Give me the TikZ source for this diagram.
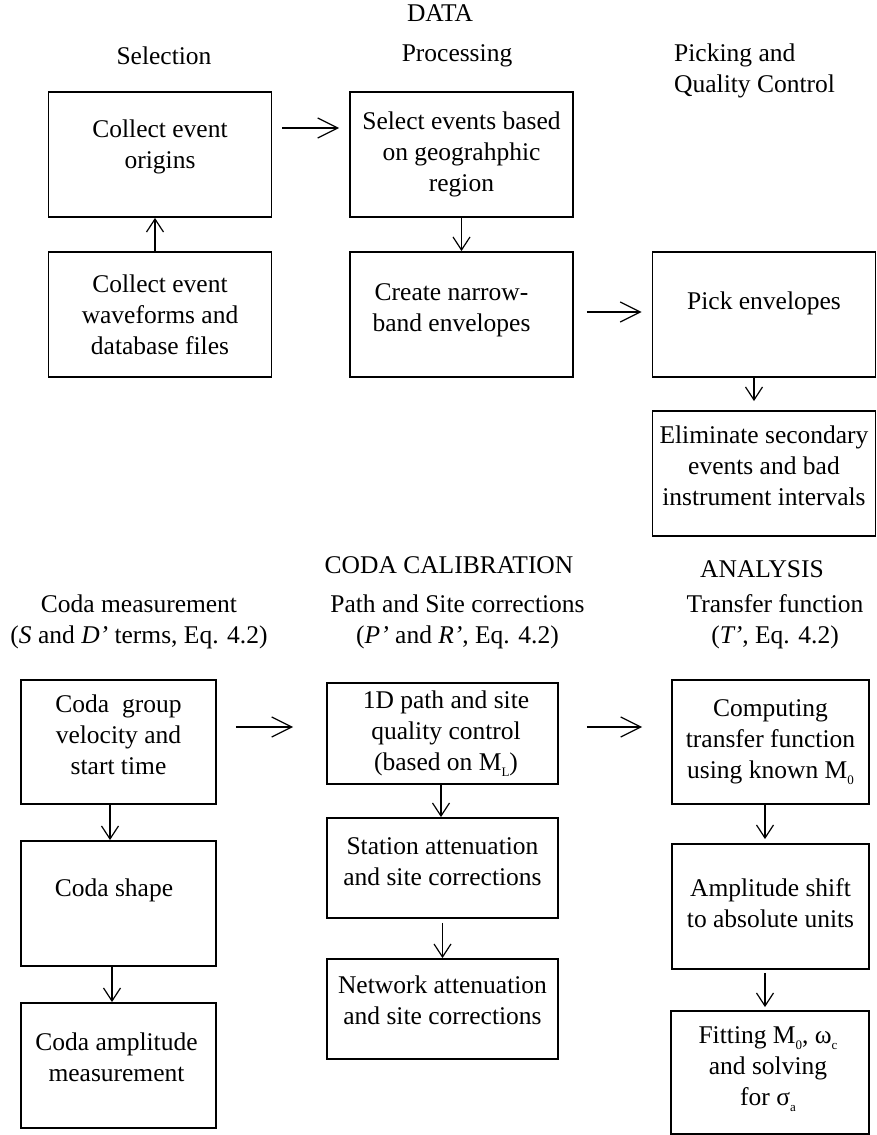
\documentclass[tikz,border=0pt]{standalone}
\usepackage{fontspec}
\setmainfont{Liberation Serif}
\usepackage{tikz}
\usetikzlibrary{arrows.meta}
\usetikzlibrary{calc}
\newcommand{\lowsub}[1]{\raisebox{-0.55ex}{\fontsize{13}{13}\selectfont #1}}

\begin{document}
\begin{tikzpicture}[x=1pt, y=-1pt,
	every node/.style={font=\fontsize{25.5}{31}\selectfont, align=center, inner sep=0pt},
	box/.style={draw, line width=1.9pt},
	topbox/.style={box, minimum width=223pt, minimum height=125pt},
	codabox/.style={box, minimum width=195pt, minimum height=125pt},
	pathbox/.style={box, minimum width=231pt, minimum height=101pt},
	fitbox/.style={box, minimum width=197pt, minimum height=125pt},
	vflow/.style={-{Straight Barb[length=13pt,width=17pt]}, line width=1.2pt},
	hflow/.style={-{Straight Barb[length=20pt,width=20pt]}, line width=1.2pt}]
	\useasboundingbox (0,0) rectangle (877,1135);

	\node (data) at (440,13) {DATA};
	\node (selection) at (164,56) {Selection};
	\node (processing) at (457,56) {Processing};
	\node[align=left, anchor=west] (picking) at (674,71) {Picking and\\Quality Control};

	\node[topbox] (origins) at (160,154.5) {};
	\node[topbox] (select) at (461.5,154.5) {};
	\node[topbox] (waveforms) at (160,314.5) {};
	\node[topbox] (narrow) at (461.5,314.5) {};
	\node[topbox] (pick) at (764,314.5) {};
	\node[topbox] (eliminate) at (764,473.5) {};

	\node (origins-t) at ([yshift=8pt]origins) {Collect event\\origins};
	\node (select-t) at (select) {Select events based\\on geograhphic\\region};
	\node (waveforms-t) at (waveforms) {Collect event\\waveforms and\\database files};
	\node (narrow-t) at ([xshift=-10pt,yshift=4.5pt]narrow) {Create narrow-\\band envelopes};
	\node (pick-t) at ([yshift=11.5pt]pick) {Pick envelopes};
	\node (eliminate-t) at ([yshift=7.5pt]eliminate) {Eliminate secondary\\events and bad\\instrument intervals};

	\draw[hflow, shorten <=10pt, shorten >=10pt] ([yshift=26.5pt]origins.east) -- ([yshift=26.5pt]select.west);
	\draw[vflow] ([xshift=-5pt]waveforms.north) -- ([xshift=-5pt]origins.south);
	\draw[vflow] (select) -- (narrow);
	\draw[hflow, shorten <=13pt, shorten >=10pt] ([yshift=2.5pt]narrow.east) -- ([yshift=2.5pt]pick.west);
	\draw[vflow, shorten >=9pt] ([xshift=-10pt]pick.south) -- ([xshift=-10pt]eliminate.north);

	\node (calibration) at (449,565) {CODA CALIBRATION};
	\node (analysis) at (762,569) {ANALYSIS};
	\node (measurement) at (139,622) {Coda measurement\\(\textit{S} and \textit{D’} terms, Eq. 4.2)};
	\node (corrections) at (457.5,622) {Path and Site corrections\\(\textit{P’} and \textit{R’}, Eq. 4.2)};
	\node (transfer) at (775,622) {Transfer function\\(\textit{T’}, Eq. 4.2)};

	\node[codabox, minimum height=124pt] (group) at (118.5,742) {};
	\node[pathbox] (path1d) at (442.5,733.5) {};
	\node[fitbox, minimum height=124pt] (computing) at (770.5,742) {};
	\node[codabox] (codashape) at (118.5,903.5) {};
	\node[codabox] (amplitude) at (118.5,1065.5) {};
	\node[pathbox, minimum height=100pt] (station) at (442.5,868) {};
	\node[pathbox, minimum height=100pt] (network) at (442.5,1009) {};
	\node[fitbox] (ampshift) at (770.5,906.5) {};
	\node[fitbox, minimum width=198pt, minimum height=123pt] (fitting) at (770,1072.5) {};

	\node (group-t) at ([yshift=7pt]group) {Coda\ \ group\\velocity and\\start time};
	\node (path1d-t) at ([xshift=3.5pt]path1d) {1D path and site\\quality control\\(based on M\lowsub{L})};
	\node (computing-t) at (computing) {Computing\\transfer function\\using known M\lowsub{0}};
	\node (codashape-t) at ([xshift=-4.5pt,yshift=13.5pt]codashape) {Coda shape};
	\node (amplitude-t) at ([xshift=-2pt,yshift=8.5pt]amplitude) {Coda amplitude\\measurement};
	\node (station-t) at ([yshift=6pt]station) {Station attenuation\\and site corrections};
	\node (network-t) at ([yshift=8.5pt]network) {Network attenuation\\and site corrections};
	\node (ampshift-t) at ([yshift=3.5pt]ampshift) {Amplitude shift\\to absolute units};
	\node (fitting-t) at ([xshift=-2pt,yshift=3.5pt]fitting) {Fitting M\lowsub{0}, ω\lowsub{c}\\and solving\\for σ\lowsub{a}};

	\draw[hflow, shorten <=19pt, shorten >=33pt] ([yshift=15pt]group.east) -- ([yshift=15pt]group.east -| path1d.west);
	\draw[hflow, shorten <=28pt, shorten >=29pt] ([yshift=6.5pt]path1d.east) -- ([yshift=6.5pt]path1d.east -| computing.west);
	\draw[vflow] ([xshift=-8.5pt]group.south) -- ([xshift=-8.5pt]codashape.north);
	\draw[vflow] ([xshift=-6.5pt]codashape.south) -- ([xshift=-6.5pt]amplitude.north);
	\draw[vflow] ([xshift=-1.5pt]path1d.south) -- ([xshift=-1.5pt]station.north);
	\draw[vflow, shorten <=4pt] (station) -- (network);
	\draw[vflow, shorten >=4pt] ([xshift=-5.5pt]computing.south) -- ([xshift=-5.5pt]ampshift.north);
	\draw[vflow, shorten <=3pt, shorten >=3pt] ([xshift=-5.5pt]ampshift.south) -- ([xshift=-5pt]fitting.north);
\end{tikzpicture}
\end{document}
